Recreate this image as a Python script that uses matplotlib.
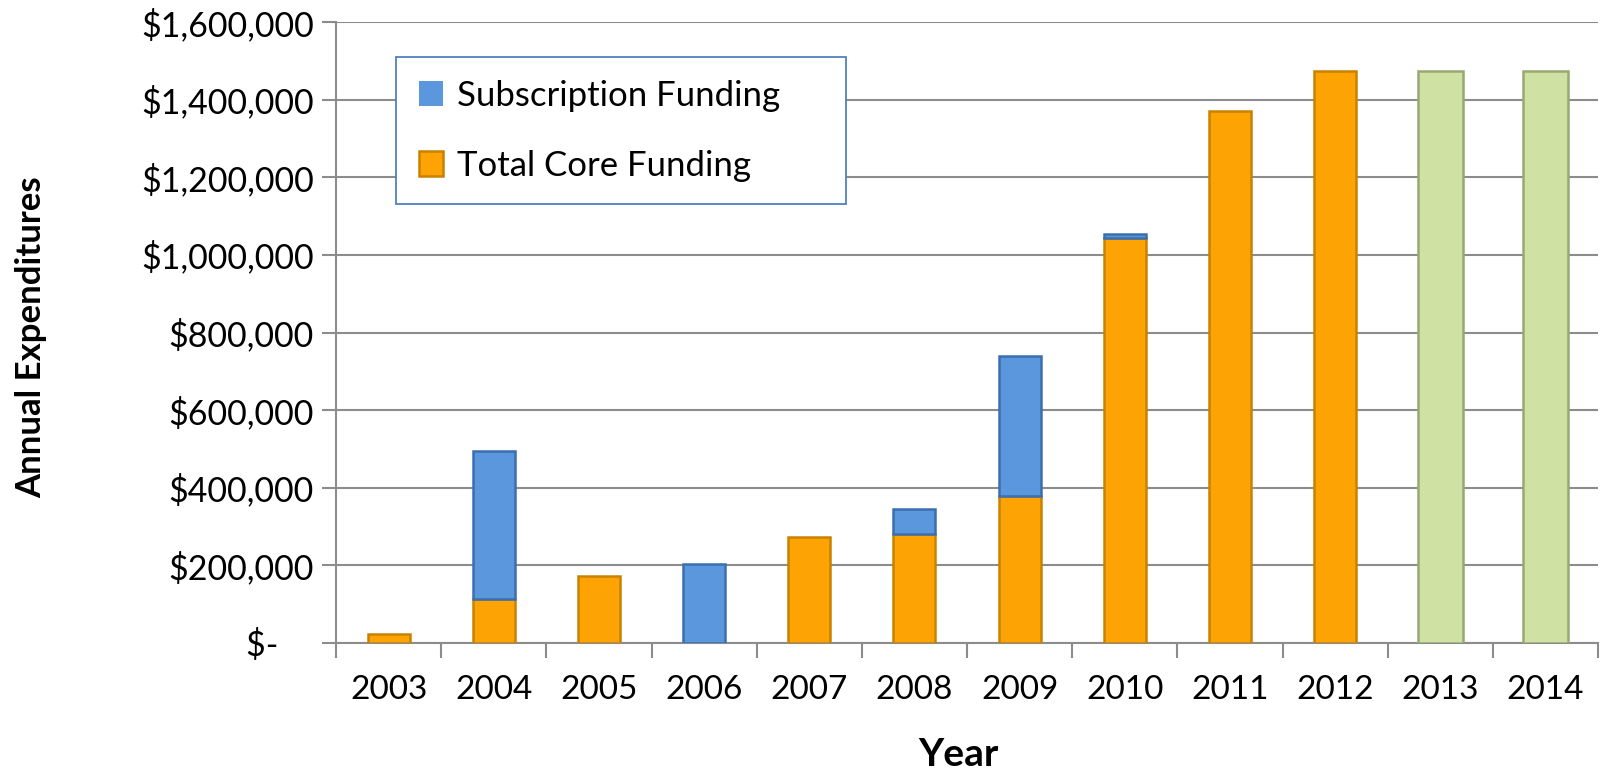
import numpy as np
import matplotlib
matplotlib.use('Agg')
import matplotlib.pyplot as plt
from matplotlib.ticker import FuncFormatter

plt.rcParams['font.family'] = ['Lato', 'DejaVu Sans']

years = ['2003', '2004', '2005', '2006', '2007', '2008', '2009',
         '2010', '2011', '2012', '2013', '2014']
core = [22000, 114000, 173000, 0, 274000, 282000, 379000,
        1043000, 1370000, 1474000, 0, 0]
subscription = [0, 381000, 0, 204000, 0, 64000, 360000,
                10000, 0, 0, 0, 0]
projected = [0, 0, 0, 0, 0, 0, 0, 0, 0, 0, 1474000, 1474000]


def money(v, pos):
    if v == 0:
        return '$-    '
    return '${:,.0f}'.format(v)


def edge_widths(vals):
    # no outline for empty segments
    return [1.8 if v else 0 for v in vals]


fig = plt.figure(figsize=(16.02, 7.73), dpi=100)
L, R, T, B = 336, 1598, 22, 643
ax = fig.add_axes([L / 1602, 1 - B / 773, (R - L) / 1602, (B - T) / 773])

x = np.arange(len(years))
w = 0.40
ax.bar(x, core, w, color='#FDA304', edgecolor='#C98200',
       linewidth=edge_widths(core), label='Total Core Funding', zorder=3)
ax.bar(x, subscription, w, bottom=core, color='#5B97DC', edgecolor='#3B6FAF',
       linewidth=edge_widths(subscription), label='Subscription Funding', zorder=3)
ax.bar(x, projected, w + 0.03, color='#D0E1A4', edgecolor='#98A873',
       linewidth=edge_widths(projected), zorder=3)

ax.set_xlim(-0.5, len(years) - 0.5)
ax.set_ylim(0, 1600000)
ax.set_yticks(np.arange(0, 1600001, 200000))
ax.yaxis.set_major_formatter(FuncFormatter(money))
ax.grid(axis='y', color='#8C8C8C', linewidth=1.5, zorder=0)

# category boundaries get the tick marks, labels sit in between
ax.set_xticks(np.arange(-0.5, len(years), 1.0))
ax.set_xticklabels([])
ax.set_xticks(x, minor=True)
ax.set_xticklabels(years, minor=True)
ax.tick_params(axis='x', which='major', length=11, width=1.5, color='#8C8C8C')
ax.tick_params(axis='x', which='minor', length=0, pad=23, labelsize=24)
ax.tick_params(axis='y', length=10, width=1.5, color='#8C8C8C', labelsize=24.5, pad=6)

for side in ['top', 'right']:
    ax.spines[side].set_visible(False)
for side in ['left', 'bottom']:
    ax.spines[side].set_color('#8C8C8C')
    ax.spines[side].set_linewidth(1.5)

# legend box spans x 396..846 px, top at 57 px
lx0 = (396 - L) / (R - L)
lw = (846 - 396) / (R - L)
ltop = 1 - (57 - T) / (B - T)
handles, labels = ax.get_legend_handles_labels()
leg = ax.legend(handles[::-1], labels[::-1], loc='upper left', mode='expand',
                bbox_to_anchor=(lx0, ltop - 0.01, lw, 0.01),
                fontsize=25, frameon=True, fancybox=False, handlelength=0.7,
                handleheight=0.7, handletextpad=0.4, labelspacing=1.1,
                borderpad=0.65, borderaxespad=0, framealpha=1)
leg.get_frame().set_edgecolor('#4F81BD')
leg.get_frame().set_linewidth(1.3)
leg.set_zorder(5)

fig.text(31 / 1602, 1 - 337 / 773, 'Annual Expenditures', rotation=90,
         ha='center', va='center', fontsize=25, fontweight='bold')
fig.text(958 / 1602, 1 - 755 / 773, 'Year', ha='center', va='center',
         fontsize=28, fontweight='bold')

fig.savefig('out.png', dpi=100)
